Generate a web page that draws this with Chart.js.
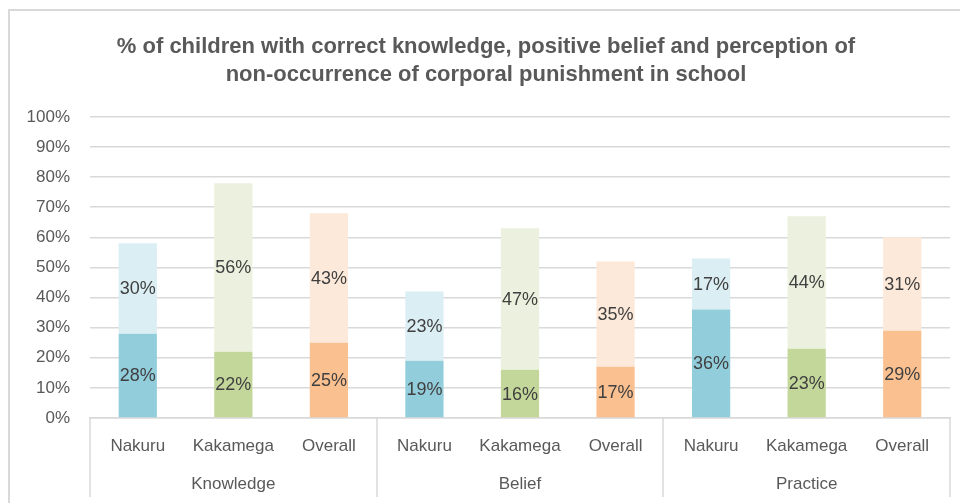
<!DOCTYPE html>
<html>
<head>
<meta charset="utf-8">
<script src="https://cdn.jsdelivr.net/npm/chart.js@4.4.0/dist/chart.umd.min.js"></script>
<style>
  html, body { margin: 0; padding: 0; background: #fff; }
  #wrap { position: relative; width: 960px; height: 503px; }
  #frame { position: absolute; left: 8px; top: 9px; right: 0; bottom: 0;
           border-top: 2px solid #d9d9d9; border-left: 2px solid #d9d9d9; }
  canvas { position: absolute; left: 0; top: 0; }
</style>
</head>
<body>
<div id="wrap">
  <div id="frame"></div>
  <canvas id="myChart" width="960" height="503"></canvas>
</div>
<script>
  // chart values
  const regions = ['Nakuru', 'Kakamega', 'Overall'];
  const groups = ['Knowledge', 'Belief', 'Practice'];
  const categories = [
    'Nakuru', 'Kakamega', 'Overall',
    'Nakuru', 'Kakamega', 'Overall',
    'Nakuru', 'Kakamega', 'Overall'
  ];
  const bottomValues = [28, 22, 25, 19, 16, 17, 36, 23, 29];
  const topValues = [30, 56, 43, 23, 47, 35, 17, 44, 31];
  const yTicks = [0, 10, 20, 30, 40, 50, 60, 70, 80, 90, 100];

  const darkColors = ['#92CDDC', '#C4D79B', '#FAC090'];
  const lightColors = ['#DAEEF3', '#EBF1DE', '#FDE9D9'];

  const fontFamily = '"Liberation Sans", Arial, sans-serif';

  // label inside each segment
  const segmentLabels = {
    id: 'segmentLabels',
    afterDatasetsDraw(chart) {
      const ctx = chart.ctx;
      ctx.save();
      ctx.font = '18px ' + fontFamily;
      ctx.fillStyle = '#404040';
      ctx.textAlign = 'center';
      ctx.textBaseline = 'middle';
      chart.data.datasets.forEach((ds, di) => {
        const meta = chart.getDatasetMeta(di);
        meta.data.forEach((bar, i) => {
          const yMid = (bar.y + bar.base) / 2;
          ctx.fillText(ds.data[i] + '%', bar.x, yMid + 1);
        });
      });
      ctx.restore();
    }
  };

  // group labels and separators under the x axis
  const groupAxis = {
    id: 'groupAxis',
    afterDraw(chart) {
      const ctx = chart.ctx;
      const x = chart.scales.x;
      const catW = (x.right - x.left) / categories.length;
      ctx.save();
      ctx.strokeStyle = '#d9d9d9';
      ctx.lineWidth = 1.5;
      for (let g = 0; g <= groups.length; g++) {
        const px = Math.round(x.left + g * regions.length * catW);
        ctx.beginPath();
        ctx.moveTo(px, x.top);
        ctx.lineTo(px, x.top + 79);
        ctx.stroke();
      }
      ctx.font = '17px ' + fontFamily;
      ctx.fillStyle = '#595959';
      ctx.textAlign = 'center';
      ctx.textBaseline = 'middle';
      groups.forEach((name, g) => {
        const mid = x.getPixelForValue(g * regions.length + 1);
        ctx.fillText(name, mid, x.top + 66);
      });
      ctx.restore();
    }
  };

  const ctx = document.getElementById('myChart').getContext('2d');
  new Chart(ctx, {
    type: 'bar',
    data: {
      labels: categories,
      datasets: [
        {
          label: 'bottom',
          data: bottomValues,
          backgroundColor: categories.map((c, i) => darkColors[i % 3]),
          borderWidth: 0
        },
        {
          label: 'top',
          data: topValues,
          backgroundColor: categories.map((c, i) => lightColors[i % 3]),
          borderWidth: 0
        }
      ]
    },
    options: {
      responsive: false,
      animation: false,
      layout: { padding: { left: 22, right: 10, top: 0, bottom: 0 } },
      datasets: { bar: { categoryPercentage: 1, barPercentage: 0.4 } },
      plugins: {
        legend: { display: false },
        tooltip: { enabled: false },
        title: {
          display: true,
          text: [
            '% of children with correct knowledge, positive belief and perception of',
            'non-occurrence of corporal punishment in school'
          ],
          color: '#595959',
          font: { family: fontFamily, size: 22, weight: 'bold', lineHeight: 1.27 },
          padding: { top: 33, bottom: 28 }
        }
      },
      scales: {
        x: {
          stacked: true,
          afterFit: (scale) => { scale.height = 85; },
          grid: { display: false },
          border: { display: true, color: '#d9d9d9', width: 1.5 },
          ticks: {
            color: '#595959',
            font: { family: fontFamily, size: 17 },
            padding: 10,
            maxRotation: 0,
            autoSkip: false
          }
        },
        y: {
          stacked: true,
          min: 0,
          max: 100,
          afterFit: (scale) => { scale.width = 68; },
          afterBuildTicks: (scale) => { scale.ticks = yTicks.map(v => ({ value: v })); },
          grid: { color: '#d9d9d9', lineWidth: 1.5, drawTicks: false },
          border: { display: false },
          ticks: {
            color: '#595959',
            font: { family: fontFamily, size: 17 },
            padding: 20,
            callback: (v) => v + '%'
          }
        }
      }
    },
    plugins: [segmentLabels, groupAxis]
  });
</script>
</body>
</html>
